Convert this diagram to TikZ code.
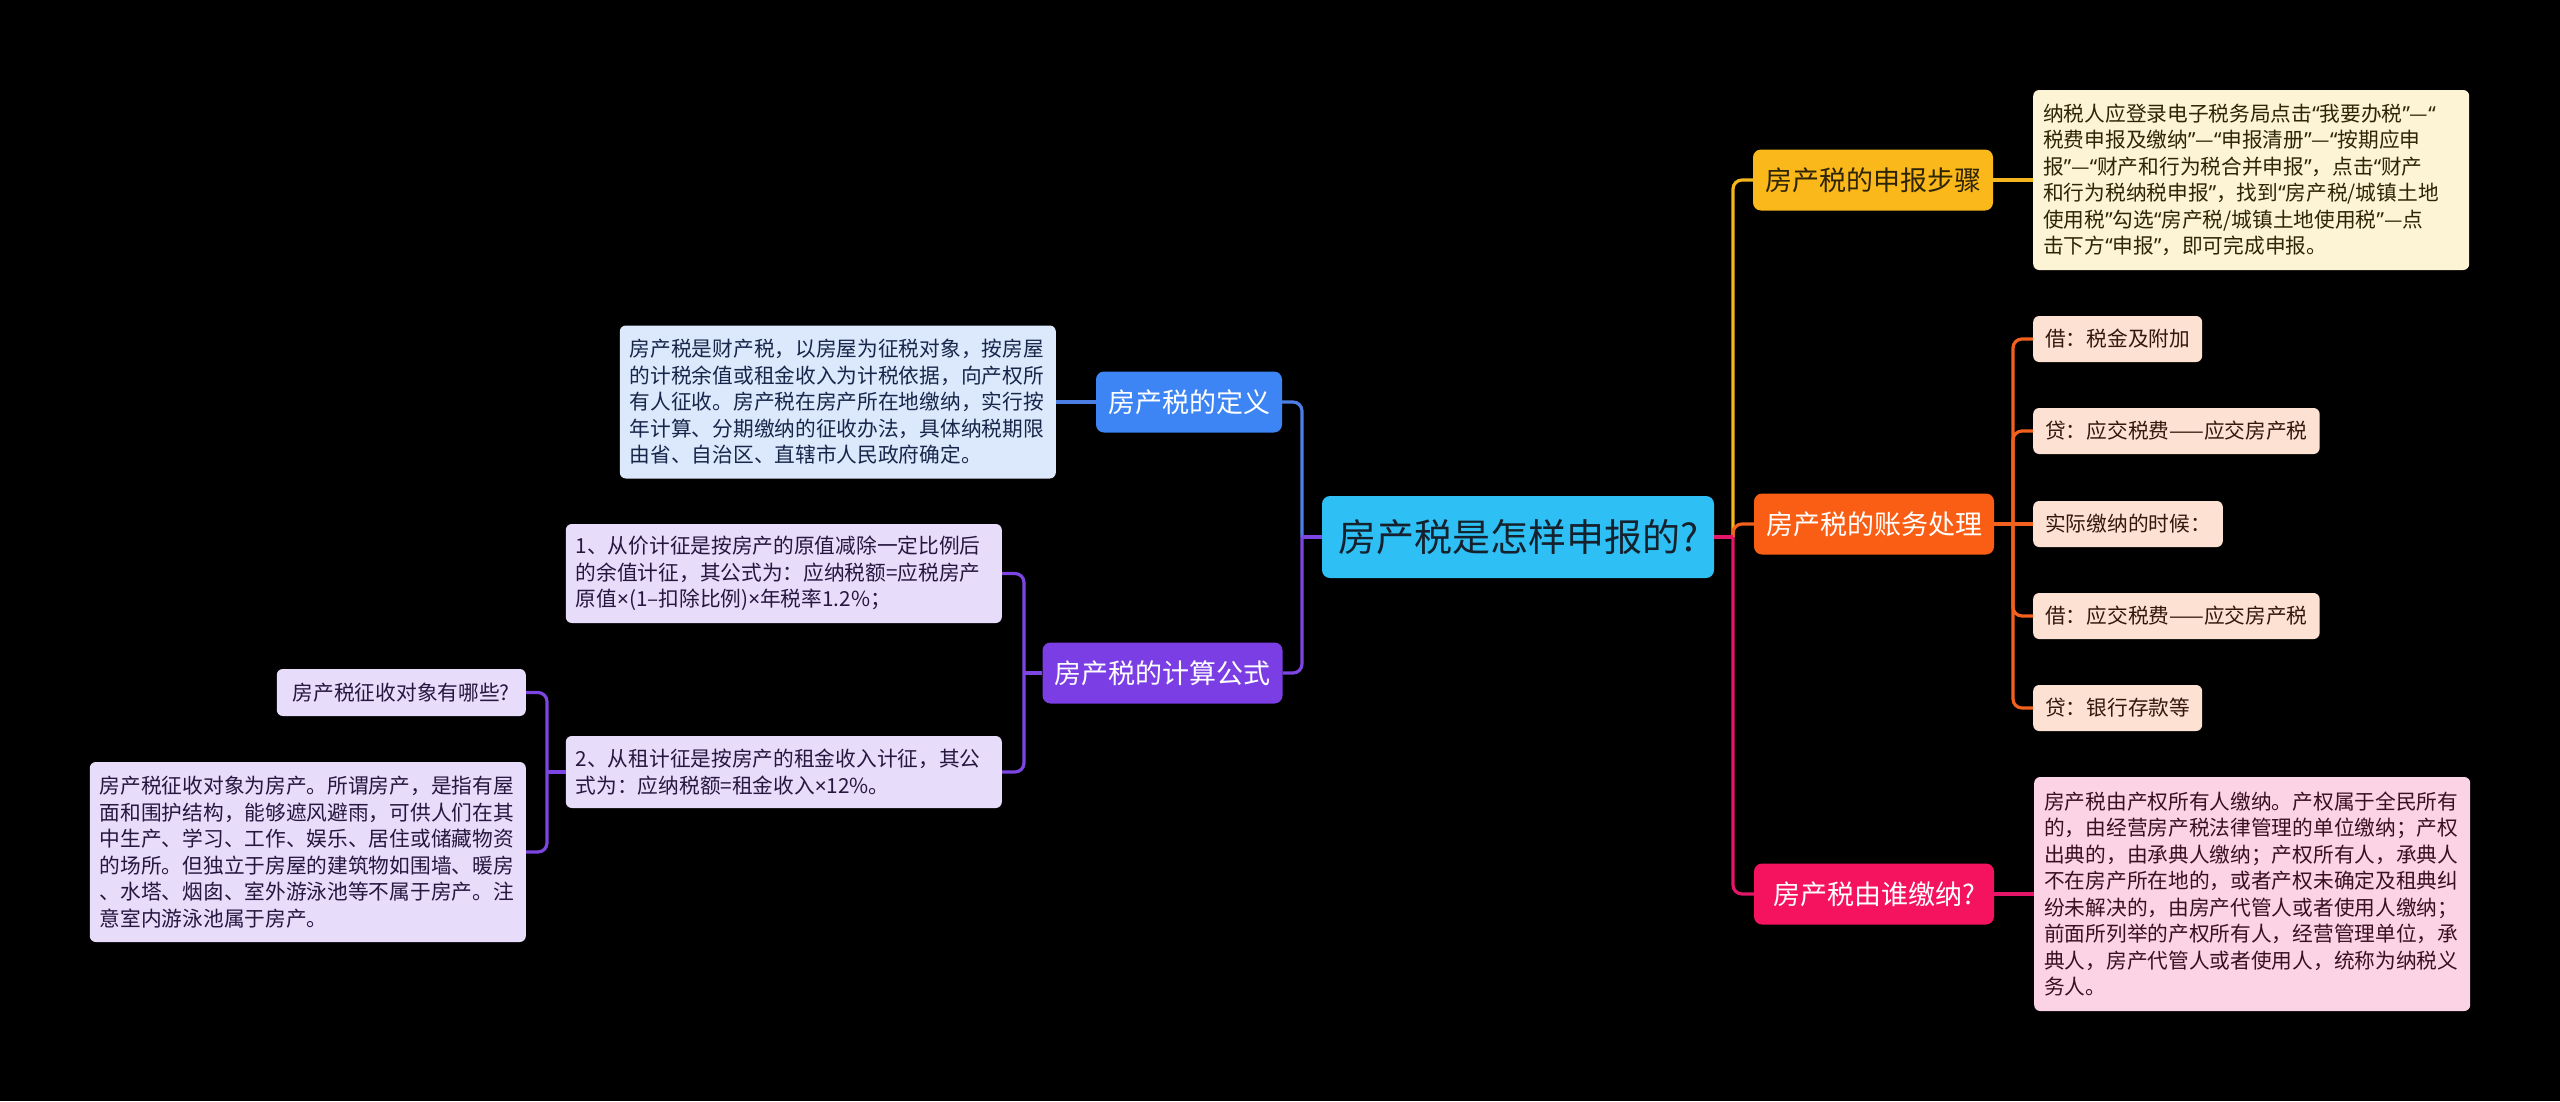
\documentclass[tikz,border=0pt]{standalone}
\usepackage{fontspec}
\setmainfont{Noto Sans CJK SC}
\newfontfamily\latinq{Noto Sans}
\newcommand{\myoq}{{\latinq “}}
\newcommand{\mycq}{{\latinq ”}}
\newcommand{\mytimes}{{\latinq ×}}
\definecolor{cCenter}{HTML}{2EC0F4}
\definecolor{cCenterT}{HTML}{15222E}
\definecolor{cBlue}{HTML}{3D85F4}
\definecolor{cBlueL}{HTML}{DCE8FC}
\definecolor{cBlueT}{HTML}{18264A}
\definecolor{cBlueLine}{HTML}{4C7FE6}
\definecolor{cPurple}{HTML}{7B3EE4}
\definecolor{cPurpleL}{HTML}{E7DCFA}
\definecolor{cPurpleT}{HTML}{26173F}
\definecolor{cPurpleLine}{HTML}{7D45E2}
\definecolor{cYellow}{HTML}{FAB81B}
\definecolor{cYellowL}{HTML}{FDF3D5}
\definecolor{cYellowT}{HTML}{2E2406}
\definecolor{cYellowLine}{HTML}{F5B51E}
\definecolor{cOrange}{HTML}{FA5E14}
\definecolor{cOrangeL}{HTML}{FDE2D4}
\definecolor{cOrangeT}{HTML}{33190C}
\definecolor{cOrangeLine}{HTML}{F2621E}
\definecolor{cMagenta}{HTML}{F5125E}
\definecolor{cPinkL}{HTML}{FCD3E4}
\definecolor{cPinkT}{HTML}{3A0F22}
\definecolor{cMagLine}{HTML}{E3166A}
\tikzset{
  lvlone/.style={rounded corners=8pt, inner sep=0pt, minimum height=61pt, align=center,
    font=\fontsize{27}{32}\selectfont},
  det/.style={rounded corners=6pt, inner xsep=10pt, inner ysep=0pt, align=left,
    text width=416pt, font=\fontsize{20.7}{26.5}\selectfont},
  leaf/.style={rounded corners=6pt, inner xsep=12pt, inner ysep=0pt, minimum height=46pt,
    fill=cOrangeL, text=cOrangeT, font=\fontsize{20.7}{25}\selectfont},
  link/.style={line width=3.2pt, rounded corners=9pt},
}
\begin{document}
\begin{tikzpicture}[x=1pt,y=-1pt]
\fill[black] (0,0) rectangle (2560,1101);
\useasboundingbox (0,0) rectangle (2560,1101);

% junction points
\coordinate (jl) at (1302,537);
\coordinate (jr) at (1733,537);
\coordinate (jo) at (2013,524);
\coordinate (jp) at (1024,673);
\coordinate (jq) at (547,772);

% root
\node[rounded corners=8pt, fill=cCenter, text=cCenterT, minimum width=392pt, minimum height=82pt,
  inner sep=0pt, font=\fontsize{38}{44}\selectfont] (root) at (1518,537) {房产税是怎样申报的?};

% right branches
\node[lvlone, fill=cYellow, text=cYellowT, minimum width=240pt] (yel) at (1873,180) {房产税的申报步骤};
\node[lvlone, fill=cOrange, text=white, minimum width=240pt] (ora) at (1874,524) {房产税的账务处理};
\node[lvlone, fill=cMagenta, text=white, minimum width=240pt] (mag) at (1874,894) {房产税由谁缴纳?};

\node[det, fill=cYellowL, text=cYellowT, minimum height=180pt, anchor=west] (yeld) at (2033,180) {%
纳税人应登录电子税务局点击\myoq 我要办税\mycq —\myoq\\
税费申报及缴纳\mycq —\myoq 申报清册\mycq —\myoq 按期应申\\
报\mycq —\myoq 财产和行为税合并申报\mycq ，点击\myoq 财产\\
和行为税纳税申报\mycq ，找到\myoq 房产税/城镇土地\\
使用税\mycq 勾选\myoq 房产税/城镇土地使用税\mycq —点\\
击下方\myoq 申报\mycq ，即可完成申报。};

\node[leaf, anchor=west] (o1) at (2033,339) {借：税金及附加};
\node[leaf, anchor=west] (o2) at (2033,431) {贷：应交税费——应交房产税};
\node[leaf, anchor=west] (o3) at (2033,524) {实际缴纳的时候：};
\node[leaf, anchor=west] (o4) at (2033,616) {借：应交税费——应交房产税};
\node[leaf, anchor=west] (o5) at (2033,708) {贷：银行存款等};

\node[det, fill=cPinkL, text=cPinkT, minimum height=234pt, anchor=west] (magd) at (2034,894) {%
房产税由产权所有人缴纳。产权属于全民所有\\
的，由经营房产税法律管理的单位缴纳；产权\\
出典的，由承典人缴纳；产权所有人，承典人\\
不在房产所在地的，或者产权未确定及租典纠\\
纷未解决的，由房产代管人或者使用人缴纳；\\
前面所列举的产权所有人，经营管理单位，承\\
典人，房产代管人或者使用人，统称为纳税义\\
务人。};

% left branches
\node[lvlone, fill=cBlue, text=white, minimum width=186pt] (def) at (1189,402) {房产税的定义};
\node[lvlone, fill=cPurple, text=white, minimum width=240pt] (calc) at (1162.5,673) {房产税的计算公式};

\node[det, fill=cBlueL, text=cBlueT, minimum height=153pt, anchor=east] (defd) at (1056,402) {%
房产税是财产税，以房屋为征税对象，按房屋\\
的计税余值或租金收入为计税依据，向产权所\\
有人征收。房产税在房产所在地缴纳，实行按\\
年计算、分期缴纳的征收办法，具体纳税期限\\
由省、自治区、直辖市人民政府确定。};

\node[det, fill=cPurpleL, text=cPurpleT, minimum height=99pt, anchor=east] (d1) at (1002,573.5) {%
1、从价计征是按房产的原值减除一定比例后\\
的余值计征，其公式为：应纳税额=应税房产\\
原值\mytimes(1–扣除比例)\mytimes 年税率1.2\%；};

\node[det, fill=cPurpleL, text=cPurpleT, minimum height=72pt, anchor=east] (d2) at (1002,772) {%
2、从租计征是按房产的租金收入计征，其公\\
式为：应纳税额=租金收入\mytimes 12\%。};

\node[rounded corners=6pt, fill=cPurpleL, text=cPurpleT, minimum width=249pt, minimum height=47pt,
  inner sep=0pt, font=\fontsize{20.7}{25}\selectfont, anchor=east] (q) at (526,692.5) {房产税征收对象有哪些?};

\node[det, fill=cPurpleL, text=cPurpleT, minimum height=180pt, anchor=east] (qd) at (526,852) {%
房产税征收对象为房产。所谓房产，是指有屋\\
面和围护结构，能够遮风避雨，可供人们在其\\
中生产、学习、工作、娱乐、居住或储藏物资\\
的场所。但独立于房屋的建筑物如围墙、暖房\\
、水塔、烟囱、室外游泳池等不属于房产。注\\
意室内游泳池属于房产。};

% connectors: root to level one
\draw[link, cBlueLine] (jl) |- (def.east);
\draw[link, cPurpleLine] (jl) |- (calc.east);
\draw[link, cPurpleLine] (root.west) -- (jl);
\draw[link, cYellowLine] (jr) |- (yel.west);
\draw[link, cOrangeLine] (jr) |- (ora.west);
\draw[link, cMagLine] (jr) |- (mag.west);
\draw[link, cMagLine] (root.east) -- (jr);

% right details
\draw[link, cYellowLine] (yel.east) -- (yeld.west);
\draw[link, cOrangeLine] (ora.east) -- (jo);
\draw[link, cOrangeLine] (jo) |- (o1.west);
\draw[link, cOrangeLine] (jo) |- (o2.west);
\draw[link, cOrangeLine] (jo) -- (o3.west);
\draw[link, cOrangeLine] (jo) |- (o4.west);
\draw[link, cOrangeLine] (jo) |- (o5.west);
\draw[link, cMagLine] (mag.east) -- (magd.west);

% left details
\draw[link, cBlueLine] (def.west) -- (defd.east);
\draw[link, cPurpleLine] (calc.west) -- (jp);
\draw[link, cPurpleLine] (jp) |- (d1.east);
\draw[link, cPurpleLine] (jp) |- (d2.east);
\draw[link, cPurpleLine] (d2.west) -- (jq);
\draw[link, cPurpleLine] (jq) |- (q.east);
\draw[link, cPurpleLine] (jq) |- (qd.east);
\end{tikzpicture}
\end{document}
